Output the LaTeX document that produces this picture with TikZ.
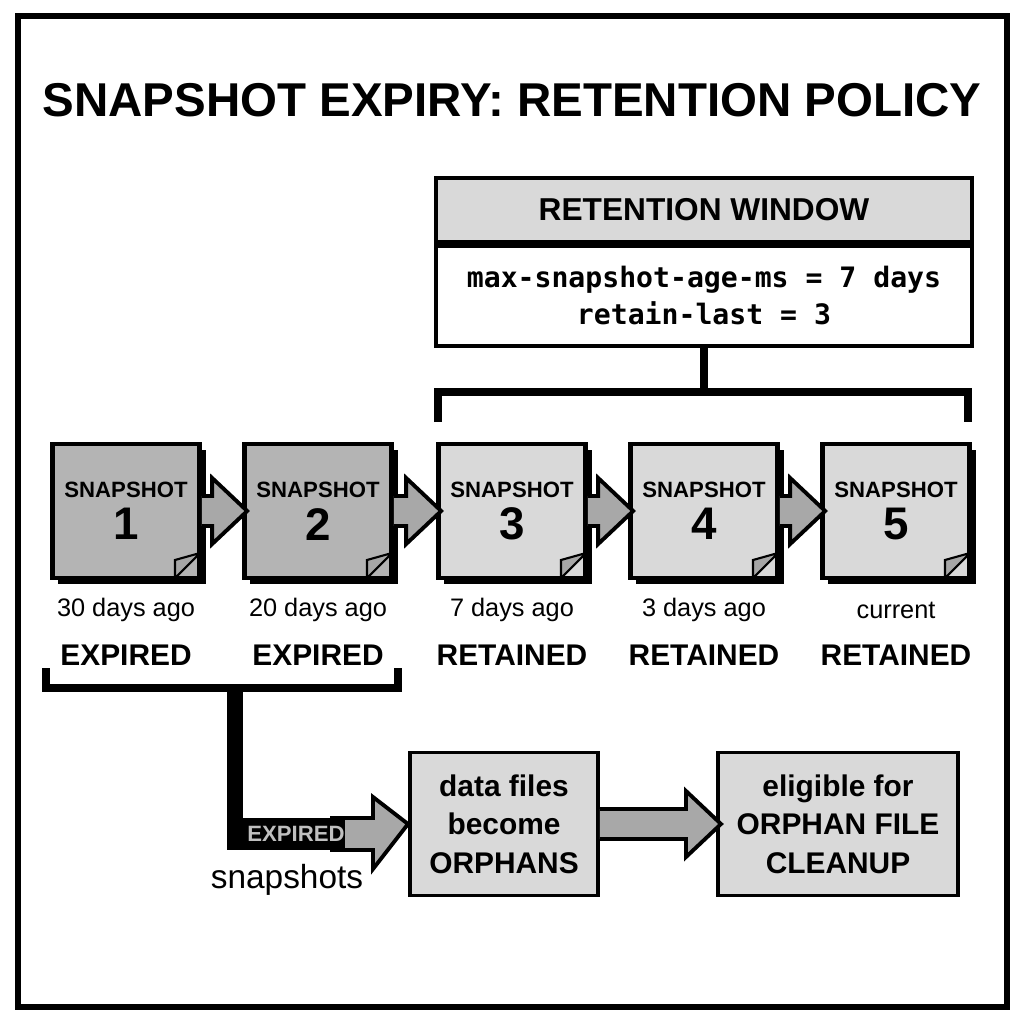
\documentclass[tikz,border=0pt]{standalone}
\usepackage{fontspec}
\setmainfont{Liberation Sans}
\setmonofont{DejaVu Sans Mono}
\usetikzlibrary{positioning,calc}
\definecolor{darkbox}{HTML}{B4B4B4}
\definecolor{lightbox}{HTML}{D9D9D9}
\definecolor{arrowgray}{HTML}{A8A8A8}
\tikzset{
  snap/.style={draw, line width=1.3pt, minimum width=1.47cm, minimum height=1.34cm, align=center, font=\bfseries\fontsize{6.3}{7}\selectfont, inner sep=0pt},
  stepbox/.style={draw, line width=1.1pt, fill=lightbox, align=center, font=\bfseries\fontsize{8.5}{11}\selectfont, inner sep=0pt},
  age/.style={font=\fontsize{7.2}{8}\selectfont},
  state/.style={font=\bfseries\fontsize{8.5}{9}\selectfont},
  bracket/.style={line width=2.3pt}
}
% block arrow from one node to the next
\newcommand{\blockarrow}[2]{%
  \path let \p1=(#1.east), \p2=(#2.west) in
    [draw=black, line width=1.1pt, fill=arrowgray, line join=miter]
    (\x1,\y1+0.15cm) -- (\x2-0.3cm,\y1+0.15cm) -- (\x2-0.3cm,\y1+0.33cm) -- (\x2+0.05cm,\y1)
    -- (\x2-0.3cm,\y1-0.33cm) -- (\x2-0.3cm,\y1-0.15cm) -- (\x1,\y1-0.15cm);}
\begin{document}
\begin{tikzpicture}[x=0.01cm,y=-0.01cm]
  \useasboundingbox (0,0) rectangle (1024,1024);
  \draw[line width=1.8pt] (18,16) rectangle (1007,1007);
  \node[font=\bfseries\fontsize{13.5}{16}\selectfont] (title) at (512,100) {SNAPSHOT EXPIRY: RETENTION POLICY};

  % retention window
  \node[draw, line width=1.1pt, fill=lightbox, minimum width=5.36cm, minimum height=0.64cm, font=\bfseries\fontsize{9}{10}\selectfont, inner sep=0pt] (win) at (704,210) {RETENTION WINDOW};
  \node[draw, line width=1.1pt, minimum width=5.36cm, minimum height=1.0cm, below=0pt of win, align=center, font=\ttfamily\bfseries\fontsize{8}{10.5}\selectfont, inner sep=0pt] (params) {max-snapshot-age-ms = 7 days\\retain-last = 3};
  \coordinate (winL) at (438,422);
  \coordinate (winR) at (968,422);
  \draw[bracket] (params.south) -- (704,392);
  \draw[bracket] (winL) -- (438,392) -- (968,392) -- (winR);

  % snapshots
  \foreach \i/\x/\col/\ago/\st in {1/126/darkbox/30 days ago/EXPIRED, 2/318/darkbox/20 days ago/EXPIRED, 3/512/lightbox/7 days ago/RETAINED, 4/704/lightbox/3 days ago/RETAINED, 5/896/lightbox/current/RETAINED} {
    \fill (\x-68,450) rectangle (\x+80,584);
    \node[snap, fill=\col] (s\i) at (\x,511) {SNAPSHOT\\[2pt]{\fontsize{13}{14}\selectfont \i}};
    \fill[gray!70, draw=black, line width=0.6pt] (\x+74-25,578) -- (\x+74,578-25) -- (\x+74-25,578-18) -- cycle;
    \node[age] (a\i) at (\x,610) {\ago};
    \node[state] (t\i) at (\x,655) {\st};
  }
  \blockarrow{s1}{s2}
  \blockarrow{s2}{s3}
  \blockarrow{s3}{s4}
  \blockarrow{s4}{s5}

  % expired bracket
  \coordinate (expL) at (46,668);
  \coordinate (expR) at (398,668);
  \draw[bracket] (expL) -- (46,688) -- (398,688) -- (expR);

  % downstream
  \node[stepbox, minimum width=1.88cm, minimum height=1.43cm] (orph) at (504,824) {data files\\become\\ORPHANS};
  \node[stepbox, minimum width=2.4cm, minimum height=1.43cm] (clean) at (838,824) {eligible for\\ORPHAN FILE\\CLEANUP};
  \draw[line width=4.5pt, line join=miter] (235,688) -- (235,840) -- (330,840);
  \path let \p2=(orph.west) in
    [draw=black, line width=1.1pt, fill=arrowgray, line join=miter]
    (330,818) -- (\x2-0.35cm,818) -- (\x2-0.35cm,797) -- (\x2,\y2) -- (\x2-0.35cm,869) -- (\x2-0.35cm,850) -- (330,850);
  \fill (227,818) rectangle (345,850);
  \node[font=\bfseries\fontsize{6.3}{7}\selectfont, text=gray!50] (exptxt) at (296,834) {EXPIRED};
  \node[font=\fontsize{9.5}{11}\selectfont] (snaps) at (287,880) {snapshots};
  \blockarrow{orph}{clean}
\end{tikzpicture}
\end{document}
